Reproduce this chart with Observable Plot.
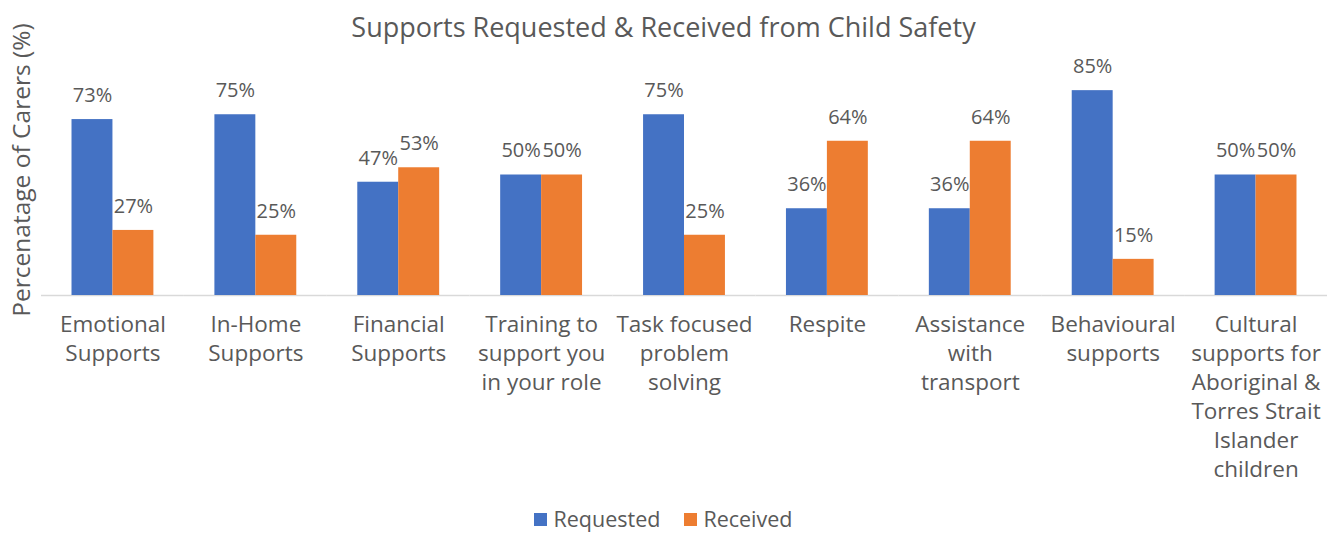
<!DOCTYPE html>
<html>
<head>
<meta charset="utf-8">
<script src="https://cdn.jsdelivr.net/npm/d3@7"></script>
<script src="https://cdn.jsdelivr.net/npm/@observablehq/plot@0.6"></script>
<style>
  html, body { margin: 0; padding: 0; background: #fff; }
  body { font-family: "Open Sans", sans-serif; color: #595959; }
  #wrap { position: relative; width: 1327px; height: 535px; }
  #title { position: absolute; left: 0; top: 0; width: 1327px; height: 54px; line-height: 54px; text-align: center; font-size: 27px; color: #595959; }
  #ylabel { position: absolute; left: 20px; top: 170px; transform: translate(-50%, -50%) rotate(-90deg); white-space: nowrap; font-size: 24.5px; color: #595959; }
  #chart { position: absolute; left: 0; top: 0; }
  #legend { position: absolute; left: 0; top: 506px; width: 1327px; height: 26px; line-height: 26px; display: flex; justify-content: center; align-items: center; gap: 24px; font-size: 21.5px; color: #595959; }
  .sw { display: inline-flex; align-items: center; gap: 6px; }
  .sq { width: 13px; height: 13px; display: inline-block; }
</style>
</head>
<body>
<div id="wrap">
  <div id="chart"></div>
  <div id="title">Supports Requested &amp; Received from Child Safety</div>
  <div id="ylabel">Percenatage of Carers (%)</div>
  <div id="legend"></div>
</div>
<script>
const categories = ["Emotional Supports", "In-Home Supports", "Financial Supports", "Training to support you in your role", "Task focused problem solving", "Respite", "Assistance with transport", "Behavioural supports", "Cultural supports for Aboriginal & Torres Strait Islander children"];
const categoryLabels = ["Emotional\nSupports", "In-Home\nSupports", "Financial\nSupports", "Training to\nsupport you\nin your role", "Task focused\nproblem\nsolving", "Respite", "Assistance\nwith\ntransport", "Behavioural\nsupports", "Cultural\nsupports for\nAboriginal &\nTorres Strait\nIslander\nchildren"];
const requested = [73, 75, 47, 50, 75, 36, 36, 85, 50];
const received = [27, 25, 53, 50, 25, 64, 64, 15, 50];
const series = ["Requested", "Received"];
const seriesColors = ["#4472C4", "#ED7D31"];

const data = categories.flatMap((c, i) => [
  {cat: c, series: series[0], value: requested[i]},
  {cat: c, series: series[1], value: received[i]}
]);
const labelOf = c => categoryLabels[categories.indexOf(c)];

const chart = Plot.plot({
  width: 1327,
  height: 505,
  marginLeft: 41,
  marginRight: 0,
  marginTop: 54,
  marginBottom: 210,
  style: {fontFamily: "Open Sans, sans-serif", background: "transparent"},
  fx: {domain: categories, paddingInner: 0.427, paddingOuter: 0.2135, round: false, axis: null, label: null},
  x: {domain: series, padding: 0, round: false, axis: null},
  y: {domain: [0, 100], axis: null},
  color: {domain: series, range: seriesColors},
  marks: [
    Plot.ruleY([0], {stroke: "#d9d9d9", strokeWidth: 1.5, insetLeft: -30.5, insetRight: -30.5}),
    Plot.barY(data, {fx: "cat", x: "series", y: "value", fill: "series"}),
    Plot.text(data, {fx: "cat", x: "series", y: "value", text: d => d.value + "%", dy: -24, fontSize: 20, fill: "#595959"}),
    Plot.text(categories, {fx: d => d, text: d => labelOf(d), frameAnchor: "bottom", lineAnchor: "top", dy: 16, fontSize: 22.5, lineHeight: 1.29, fill: "#595959"})
  ]
});
document.getElementById("chart").appendChild(chart);

const legend = document.getElementById("legend");
series.forEach((s, i) => {
  const item = document.createElement("span");
  item.className = "sw";
  const sq = document.createElement("span");
  sq.className = "sq";
  sq.style.background = seriesColors[i];
  const t = document.createElement("span");
  t.textContent = s;
  item.appendChild(sq);
  item.appendChild(t);
  legend.appendChild(item);
});
</script>
</body>
</html>
